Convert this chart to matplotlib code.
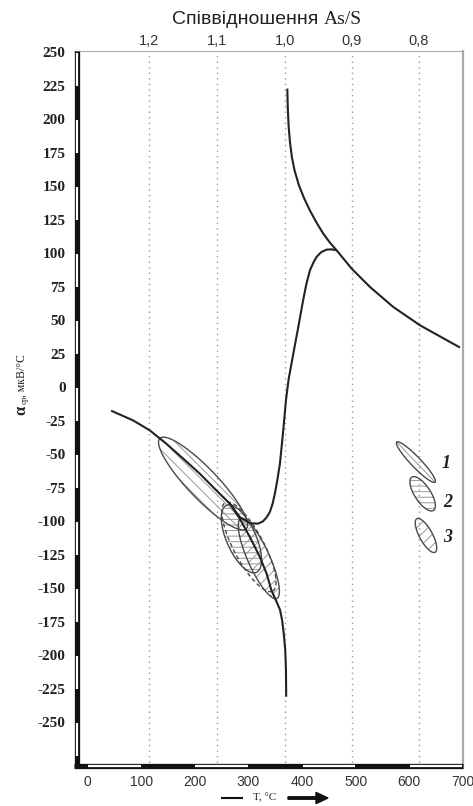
import matplotlib
matplotlib.use("Agg")
import matplotlib.pyplot as plt
import numpy as np
from matplotlib.patches import Polygon
import matplotlib.transforms as mtransforms

# --- data ---
# upper curve (T, alpha)
upper_T = [372.6, 373.5, 375, 377.5, 381, 386, 394, 404, 414.7, 427, 439.6, 452, 464.6, 492.5, 526.7, 570, 620, 692.7]
upper_a = [222.2, 208, 195, 183, 172, 162, 151, 141, 132, 123, 114.7, 108, 102.2, 88.6, 74.9, 60, 46.3, 30.1]

# lower curve: left part, dip, rise to the peak
lower_T = [46, 85, 116, 147, 178, 209.5, 240.7, 265.5, 284, 302.8, 318, 327, 334, 340, 345, 349.4,
           354, 358.8, 365, 370, 375, 380, 386, 393, 402, 408, 414.7, 421, 427, 436, 446, 455, 461]
lower_a = [-17.7, -24.6, -32, -42, -53, -64.4, -77, -86.8, -96.8, -101.3, -101.7, -100, -97, -93, -87, -79.3,
           -69, -57, -32, -9.7, 6, 17, 30, 45, 65, 77, 87.3, 93, 97.3, 101, 102.8, 103, 102.5]

# branch going down
branch_T = [265.5, 284, 302.8, 321.5, 334, 343, 352.6, 359, 363, 366, 368.7, 370, 370.5]
branch_a = [-86.8, -98, -111.7, -126.6, -139, -151.5, -160, -166, -174, -184, -196, -210, -230]

# As/S ratio grid
ratio_T = [115, 241, 369, 493, 618]
ratio_labels = ['1,2', '1,1', '1,0', '0,9', '0,8']

# ellipses: tip1, tip2 (T, alpha), width/length ratio, hatch
ell_tips1 = [(135, -38), (259, -88), (286, -98)]
ell_tips2 = [(296, -105.5), (315, -138), (353, -157.5)]
ell_ratio = [0.24, 0.40, 0.25]
ell_hatch = ['\\\\\\', '---', '///']
dash_tip1, dash_tip2, dash_ratio = (257, -86), (345, -152), 0.30

# legend ellipses
leg_tips1 = [(576.5, -40.8), (604.5, -67), (614, -98)]
leg_tips2 = [(648, -70.7), (645, -91.8), (648, -123)]
leg_ratio = [0.18, 0.40, 0.34]
leg_hatch = ['', '---', '///']
leg_names = ['1', '2', '3']
leg_text_T = [669, 671, 671]
leg_text_a = [-57, -86, -112]

yticks = list(range(250, -251, -25))
xticks = [0, 100, 200, 300, 400, 500, 600, 700]
xmin, xmax = -25, 700
ymin, ymax = -284, 251

plt.rcParams['hatch.linewidth'] = 0.7
plt.rcParams['mathtext.fontset'] = 'custom'
plt.rcParams['mathtext.rm'] = 'Liberation Serif'
plt.rcParams['mathtext.bf'] = 'Liberation Serif:bold'

fig = plt.figure(figsize=(4.73, 8.06), dpi=100)
ax = fig.add_axes([74/473, 1-768/806, 389/473, 717/806])
ax.set_xlim(xmin, xmax)
ax.set_ylim(ymin, ymax)

for s in ['left', 'bottom']:
    ax.spines[s].set_visible(False)
for s in ['top', 'right']:
    ax.spines[s].set_color('#aaaaaa')
ax.spines['right'].set_linewidth(1.6)
ax.spines['top'].set_linewidth(0.8)

ax.set_yticks(yticks)
ax.set_yticklabels([str(v) for v in yticks], fontfamily='Liberation Serif',
                   fontweight='bold', fontsize=11, color='#222222')
ax.set_xticks(xticks)
ax.set_xticklabels([str(v) for v in xticks], fontfamily='Liberation Sans',
                   fontsize=10, color='#333333')
ax.tick_params(axis='y', length=0, pad=6)
ax.tick_params(axis='x', length=0, pad=5)

# dotted ratio lines
for t in ratio_T:
    ax.axvline(t, color='#999999', lw=1.0, ls=(0, (1, 3)))

# top axis with As/S ratio
top = ax.twiny()
top.set_xlim(xmin, xmax)
top.set_xticks(ratio_T)
top.set_xticklabels(ratio_labels, fontfamily='Liberation Sans', fontsize=10.5, color='#333333')
top.tick_params(axis='x', length=0, pad=2)
for s in top.spines.values():
    s.set_visible(False)

# striped left and bottom bars
off_x = mtransforms.offset_copy(ax.transData, fig=fig, x=2.5, y=0, units='dots')
off_y = mtransforms.offset_copy(ax.transData, fig=fig, x=0, y=2.5, units='dots')
ax.plot([xmin, xmin], [ymin, ymax], color='#111111', lw=3.8, solid_capstyle='butt',
        transform=off_x, clip_on=False, zorder=5)
ax.plot([xmin, xmax], [ymin, ymin], color='#111111', lw=3.8, solid_capstyle='butt',
        transform=off_y, clip_on=False, zorder=5)
for top_v in range(250, -300, -50):
    lo = max(top_v - 25, ymin)
    ax.plot([xmin, xmin], [lo, min(top_v, ymax) - 0.6], color='white', lw=1.6,
            solid_capstyle='butt', transform=off_x, clip_on=False, zorder=6)
for left_v in range(0, 700, 200):
    ax.plot([left_v + 1, left_v + 99], [ymin, ymin], color='white', lw=1.6,
            solid_capstyle='butt', transform=off_y, clip_on=False, zorder=6)

# curves
ax.plot(upper_T, upper_a, color='#222222', lw=1.5, zorder=4)
ax.plot(lower_T, lower_a, color='#222222', lw=1.5, zorder=4)
ax.plot(branch_T, branch_a, color='#222222', lw=1.5, zorder=4)

fig.canvas.draw()

def ellipse_pts(tip1, tip2, ratio, n=200):
    p1 = ax.transData.transform(tip1)
    p2 = ax.transData.transform(tip2)
    c = (p1 + p2) / 2
    u = (p2 - p1) / 2
    v = np.array([-u[1], u[0]]) * ratio
    t = np.linspace(0, 2 * np.pi, n)
    pts = c + np.outer(np.cos(t), u) + np.outer(np.sin(t), v)
    return ax.transData.inverted().transform(pts)

def draw_ellipse(tip1, tip2, ratio, hatch, ls='-', axis_line=False):
    pts = ellipse_pts(tip1, tip2, ratio)
    if hatch:
        ax.add_patch(Polygon(pts, closed=True, fill=False, hatch=hatch,
                             edgecolor='#999999', lw=0, zorder=2))
    ax.add_patch(Polygon(pts, closed=True, fill=False, edgecolor='#4a4a4a',
                         lw=1.0, ls=ls, zorder=3))
    if axis_line:
        ax.plot([tip1[0], tip2[0]], [tip1[1], tip2[1]], color='#999999', lw=0.7, zorder=2)

for t1, t2, r, h in zip(ell_tips1, ell_tips2, ell_ratio, ell_hatch):
    draw_ellipse(t1, t2, r, h)
draw_ellipse(dash_tip1, dash_tip2, dash_ratio, '', ls=(0, (3, 2)))

for t1, t2, r, h, name, tx, ty in zip(leg_tips1, leg_tips2, leg_ratio, leg_hatch,
                                       leg_names, leg_text_T, leg_text_a):
    draw_ellipse(t1, t2, r, h, axis_line=(h == ''))
    ax.text(tx, ty, name, fontfamily='Liberation Serif', fontstyle='italic',
            fontweight='bold', fontsize=13, ha='center', va='center', color='#222222')

# titles and labels
fig.text(318/473, 1-20/806, 'Співвідношення', fontfamily='Liberation Sans', fontsize=14,
         ha='right', va='center', color='#222222')
fig.text(324/473, 1-20/806, 'As/S', fontfamily='Liberation Serif', fontsize=14,
         ha='left', va='center', color='#222222')

fig.text(21/473, 1-410/806, r'$\mathbf{\alpha}$', fontsize=12, rotation=90,
         ha='center', va='center', color='#222222')
fig.text(25/473, 1-400/806, 'ср', fontfamily='Liberation Serif', fontsize=6.5,
         rotation=90, ha='center', va='center', color='#222222')
fig.text(22/473, 1-376/806, ', мкВ/°С', fontfamily='Liberation Serif', fontsize=8.5,
         rotation=90, ha='center', va='center', color='#222222')

fig.text(265/473, 1-798/806, 'T, °C', fontfamily='Liberation Serif', fontsize=8,
         ha='center', va='center', color='#222222')
fig.add_artist(plt.Line2D([222/473, 242/473], [1-798/806, 1-798/806], color='#111111', lw=1.5))
fig.add_artist(matplotlib.patches.FancyArrow(288/473, 1-798/806, 28/473, 0,
                                             width=0.003, head_width=0.014, head_length=12/473,
                                             length_includes_head=False, color='#111111'))

fig.savefig('out.png', dpi=100)
